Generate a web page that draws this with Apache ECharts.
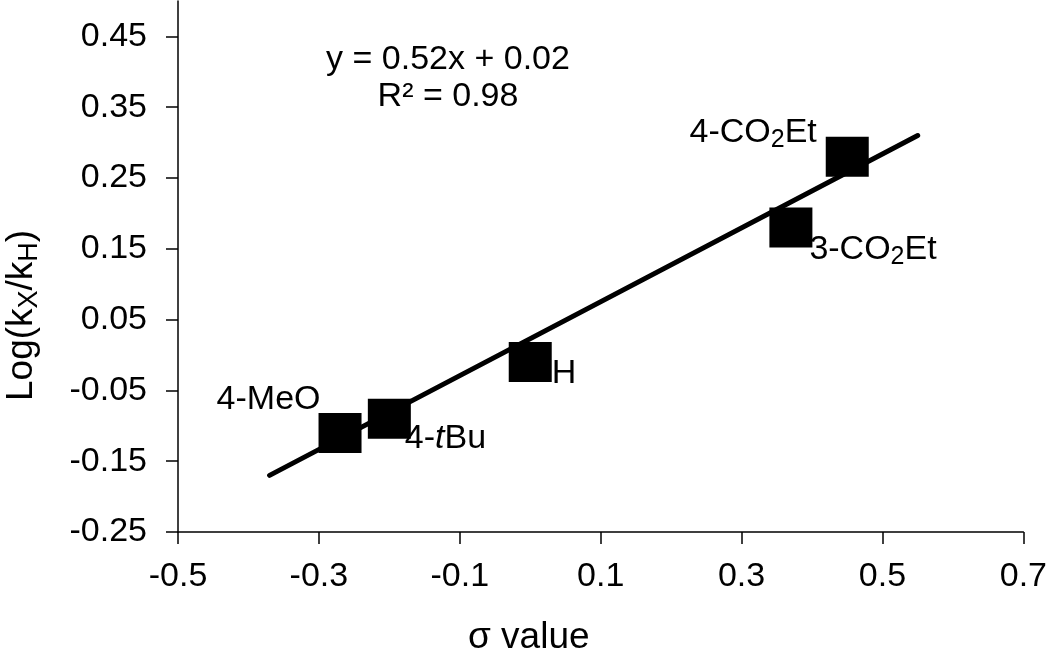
<!DOCTYPE html>
<html>
<head>
<meta charset="utf-8">
<script src="https://cdn.jsdelivr.net/npm/echarts@6/dist/echarts.min.js"></script>
<style>
  html, body { margin: 0; padding: 0; background: #fff; }
  #chart { width: 1050px; height: 652px; }
</style>
</head>
<body>
<div id="chart"></div>
<script>
// substituents and their sigma / log(kX/kH) values
const names = ['4-MeO', '4-tBu', 'H', '3-CO2Et', '4-CO2Et']
const sigma = [-0.27, -0.20, 0.00, 0.37, 0.45]
const logK = [-0.11, -0.09, -0.01, 0.18, 0.28]

// linear trendline end points
const trendX = [-0.37, 0.55]
const trendY = [-0.17, 0.31]

const font = 'Liberation Sans, Arial, sans-serif'
const fs = 34

// rich text for labels (subscripts, italic)
const labelText = {
  '4-MeO': '4-MeO',
  '4-tBu': '4-{i|t}Bu',
  'H': 'H',
  '3-CO2Et': '3-CO{sub|2}Et',
  '4-CO2Et': '4-CO{sub|2}Et'
}
// where each label sits around its square
const labelPos = {
  '4-MeO': { position: [2, 4], align: 'right', verticalAlign: 'bottom' },
  '4-tBu': { position: [37, 23], align: 'left', verticalAlign: 'top' },
  'H': { position: [43, 15], align: 'left', verticalAlign: 'top' },
  '3-CO2Et': { position: [40, 22], align: 'left', verticalAlign: 'top' },
  '4-CO2Et': { position: [-9, 16], align: 'right', verticalAlign: 'bottom' }
}

const rich = {
  sub: { fontSize: 25, verticalAlign: 'bottom', padding: [15, 0, 0, 0], fontFamily: font, color: '#000' },
  i: { fontStyle: 'italic', fontSize: fs, fontFamily: font, color: '#000' }
}

const points = names.map((n, i) => ({
  value: [sigma[i], logK[i]],
  label: Object.assign({
    show: true,
    formatter: labelText[n],
    fontSize: fs,
    fontFamily: font,
    color: '#000',
    opacity: 1,
    rich: rich
  }, labelPos[n])
}))

const chart = echarts.init(document.getElementById('chart'))

const option = {
  animation: false,
  backgroundColor: '#fff',
  textStyle: { fontFamily: font },
  grid: { left: 178, right: 26, top: 1, bottom: 120 },
  xAxis: {
    type: 'value',
    min: -0.5,
    max: 0.7,
    interval: 0.2,
    axisLine: { show: true, onZero: false, lineStyle: { color: '#000', width: 1.5 } },
    axisTick: { show: true, inside: false, length: 12, lineStyle: { color: '#000', width: 1.5 } },
    axisLabel: {
      fontSize: fs,
      color: '#000',
      margin: 28,
      formatter: v => (Math.abs(v) < 1e-9 ? '0' : String(Math.round(v * 10) / 10))
    },
    splitLine: { show: false }
  },
  yAxis: {
    type: 'value',
    min: -0.25,
    max: 0.5,
    interval: 0.1,
    axisLine: { show: true, onZero: false, lineStyle: { color: '#000', width: 1.5 } },
    axisTick: { show: true, inside: false, length: 12, lineStyle: { color: '#000', width: 1.5 } },
    axisLabel: {
      fontSize: fs,
      color: '#000',
      margin: 31,
      showMaxLabel: false,
      formatter: v => (v > 0.48 ? '' : v.toFixed(2))
    },
    splitLine: { show: false }
  },
  graphic: [
    {
      type: 'text',
      x: 448,
      y: 41,
      style: {
        text: 'y = 0.52x + 0.02\nR² = 0.98',
        font: fs + 'px ' + font,
        fill: '#000',
        textAlign: 'center',
        lineHeight: 37
      }
    },
    {
      type: 'text',
      x: 468,
      y: 619,
      style: {
        text: 'σ value',
        font: '37px ' + font,
        fill: '#000'
      }
    },
    {
      type: 'text',
      x: 1,
      y: 401,
      rotation: Math.PI / 2,
      style: {
        text: 'Log(k{sub|X}/k{sub|H})',
        font: '37px ' + font,
        fill: '#000',
        rich: {
          sub: { fontSize: 27, verticalAlign: 'bottom', padding: [15, 0, 0, 0], fontFamily: font, fill: '#000' }
        }
      }
    }
  ],
  series: [
    {
      type: 'line',
      data: trendX.map((x, i) => [x, trendY[i]]),
      symbol: 'none',
      lineStyle: { color: '#000', width: 5, cap: 'round' },
      z: 1
    },
    {
      type: 'scatter',
      data: points,
      symbol: 'rect',
      symbolSize: [43, 40],
      itemStyle: { color: '#000', opacity: 1 },
      z: 3
    }
  ]
}

chart.setOption(option)
</script>
</body>
</html>
